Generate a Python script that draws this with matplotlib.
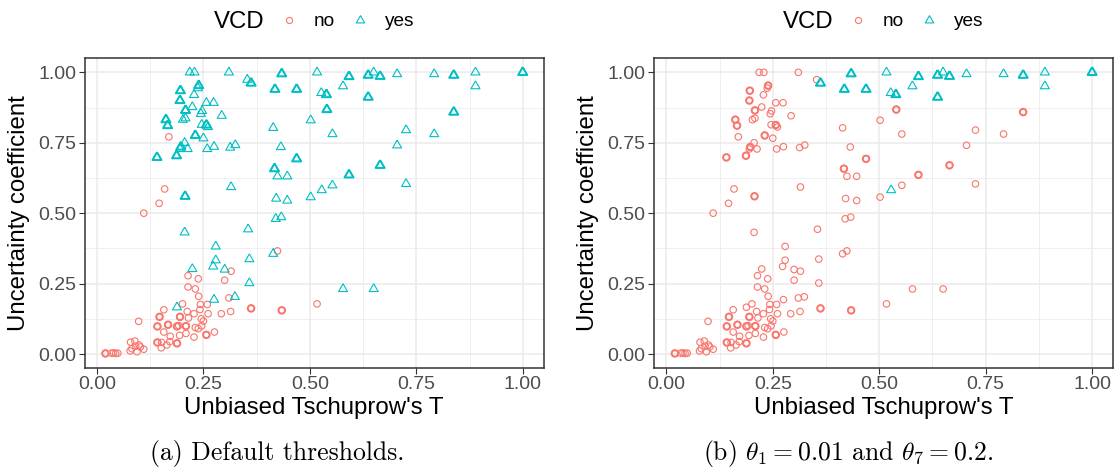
import numpy as np
import matplotlib.pyplot as plt
from matplotlib.lines import Line2D

# VCD flagged under both threshold settings
t_both = [0.434, 0.362, 0.418, 0.469, 0.517, 0.592, 0.637, 0.650, 0.665, 0.705,
          0.792, 0.838, 0.889, 1.000, 0.527, 0.539, 0.578, 0.637, 0.889, 0.528]
u_both = [0.995, 0.962, 0.940, 0.940, 1.000, 0.985, 0.990, 1.000, 0.986, 0.994,
          0.994, 0.990, 1.000, 1.000, 0.927, 0.921, 0.951, 0.912, 0.951, 0.582]
k_both = [2, 2, 2, 2, 1, 2, 2, 1, 2, 1, 1, 2, 1, 3, 1, 2, 1, 2, 1, 1]

# VCD flagged only with the default thresholds
t_dflt = [0.218, 0.229, 0.310, 0.353, 0.239, 0.237, 0.196, 0.195, 0.228, 0.257,
          0.274, 0.208, 0.224, 0.247, 0.244, 0.293, 0.162, 0.202, 0.208, 0.166,
          0.246, 0.257, 0.261, 0.414, 0.502, 0.231, 0.250, 0.206, 0.197, 0.195,
          0.213, 0.187, 0.141, 0.259, 0.275, 0.313, 0.325, 0.432, 0.469, 0.417,
          0.424, 0.447, 0.315, 0.207, 0.421, 0.447, 0.540, 0.838, 0.553, 0.726,
          0.792, 0.705, 0.665, 0.592, 0.726, 0.553, 0.502, 0.420, 0.433, 0.206,
          0.355, 0.279, 0.414, 0.279, 0.273, 0.300, 0.224, 0.358, 0.358, 0.324,
          0.275, 0.188, 0.578, 0.650]
u_dflt = [1.000, 1.000, 1.000, 0.974, 0.953, 0.944, 0.935, 0.900, 0.920, 0.892,
          0.892, 0.865, 0.877, 0.863, 0.853, 0.846, 0.832, 0.832, 0.837, 0.811,
          0.814, 0.813, 0.806, 0.803, 0.830, 0.776, 0.766, 0.750, 0.735, 0.728,
          0.728, 0.704, 0.698, 0.728, 0.736, 0.733, 0.742, 0.735, 0.693, 0.658,
          0.631, 0.631, 0.593, 0.560, 0.552, 0.545, 0.868, 0.859, 0.781, 0.795,
          0.781, 0.741, 0.670, 0.636, 0.604, 0.599, 0.557, 0.480, 0.486, 0.432,
          0.443, 0.382, 0.356, 0.333, 0.311, 0.300, 0.302, 0.337, 0.252, 0.203,
          0.193, 0.166, 0.231, 0.231]
k_dflt = [1, 1, 1, 1, 2, 1, 2, 2, 1, 1,
          1, 2, 1, 1, 1, 1, 2, 1, 1, 2,
          1, 2, 1, 1, 1, 2, 1, 1, 2, 1,
          1, 2, 2, 1, 1, 1, 1, 1, 2, 2,
          1, 1, 1, 2, 1, 1, 2, 2, 1, 1,
          1, 1, 2, 2, 1, 1, 1, 1, 1, 1,
          1, 1, 1, 1, 1, 1, 1, 1, 1, 1,
          1, 1, 1, 1]

# never flagged
t_none = [0.169, 0.159, 0.146, 0.110, 0.214, 0.238, 0.214, 0.231, 0.239, 0.300,
          0.315, 0.424, 0.310, 0.201, 0.157, 0.243, 0.259, 0.242, 0.261, 0.212,
          0.228, 0.250, 0.246, 0.238, 0.231, 0.292, 0.314, 0.362, 0.434, 0.098,
          0.147, 0.195, 0.215, 0.245, 0.142, 0.167, 0.188, 0.209, 0.192, 0.157,
          0.172, 0.194, 0.209, 0.228, 0.257, 0.276, 0.142, 0.152, 0.151, 0.164,
          0.171, 0.188, 0.079, 0.089, 0.078, 0.091, 0.099, 0.102, 0.094, 0.110,
          0.082, 0.020, 0.034, 0.039, 0.049, 0.044, 0.517]
u_none = [0.771, 0.586, 0.535, 0.500, 0.278, 0.267, 0.238, 0.231, 0.205, 0.262,
          0.294, 0.366, 0.199, 0.178, 0.157, 0.176, 0.176, 0.158, 0.143, 0.151,
          0.143, 0.117, 0.100, 0.090, 0.094, 0.143, 0.151, 0.162, 0.155, 0.116,
          0.132, 0.132, 0.128, 0.125, 0.098, 0.104, 0.098, 0.099, 0.101, 0.078,
          0.063, 0.066, 0.073, 0.060, 0.068, 0.078, 0.041, 0.041, 0.022, 0.032,
          0.044, 0.038, 0.042, 0.046, 0.011, 0.028, 0.032, 0.025, 0.008, 0.017,
          0.019, 0.002, 0.003, 0.004, 0.003, 0.002, 0.178]
k_none = [1, 1, 1, 1, 1, 1, 1, 1, 1, 1,
          1, 1, 1, 1, 1, 1, 1, 1, 1, 1,
          1, 1, 1, 1, 1, 1, 1, 2, 2, 1,
          2, 2, 1, 1, 2, 2, 2, 2, 1, 1,
          1, 1, 1, 1, 2, 1, 2, 1, 1, 1,
          1, 2, 1, 1, 1, 1, 1, 1, 1, 1,
          1, 2, 1, 1, 1, 1, 1]

ticks = [0.0, 0.25, 0.5, 0.75, 1.0]
tick_labels = ["0.00", "0.25", "0.50", "0.75", "1.00"]
captions = ["(a) Default thresholds.",
            r"(b) $\theta_1 = 0.01$ and $\theta_7 = 0.2$."]

RED = "#F8766D"
CYAN = "#00BFC4"
# open triangle like ggplot shape 2 (closed outline)
TRI = [(0, 0.577), (-0.5, -0.289), (0.5, -0.289), (0, 0.577)]

plt.rcParams['font.family'] = ['Liberation Sans', 'DejaVu Sans']
plt.rcParams['mathtext.fontset'] = 'cm'


def pts(t, u, k):
    return np.array(t), np.array(u), np.array(k)


groups = {'both': pts(t_both, u_both, k_both),
          'dflt': pts(t_dflt, u_dflt, k_dflt),
          'none': pts(t_none, u_none, k_none)}

all_t = np.concatenate([g[0] for g in groups.values()])
all_u = np.concatenate([g[1] for g in groups.values()])
xpad = 0.05 * (all_t.max() - all_t.min())
ypad = 0.05 * (all_u.max() - all_u.min())

fig = plt.figure(figsize=(11.14, 4.70), dpi=100)
W, H = 1114, 470
ax_a = fig.add_axes([84.6 / W, 1 - 367.5 / H, 459 / W, 309.2 / H])
ax_b = fig.add_axes([654 / W, 1 - 367.5 / H, 459 / W, 309.2 / H])

# which groups count as "yes" in each panel
setups = [(ax_a, ['both', 'dflt'], ['none']),
          (ax_b, ['both'], ['dflt', 'none'])]


def draw(ax, keys, marker, color, size):
    t = np.concatenate([groups[k][0] for k in keys])
    u = np.concatenate([groups[k][1] for k in keys])
    n = np.concatenate([groups[k][2] for k in keys])
    ax.scatter(t, u, marker=marker, s=size, facecolors='none',
               edgecolors=color, linewidths=0.8, zorder=3)
    rep = n > 1
    ax.scatter(t[rep], u[rep], marker=marker, s=size, facecolors='none',
               edgecolors=color, linewidths=1.4, zorder=3)


for i, (ax, yes_keys, no_keys) in enumerate(setups):
    draw(ax, no_keys, 'o', RED, 22)
    draw(ax, yes_keys, TRI, CYAN, 56)

    ax.set_xlim(all_t.min() - xpad, all_t.max() + xpad)
    ax.set_ylim(all_u.min() - ypad, all_u.max() + ypad)
    ax.set_xticks(ticks)
    ax.set_xticklabels(tick_labels)
    ax.set_yticks(ticks)
    ax.set_yticklabels(tick_labels)
    ax.set_xticks([0.125, 0.375, 0.625, 0.875], minor=True)
    ax.set_yticks([0.125, 0.375, 0.625, 0.875], minor=True)
    ax.grid(True, which='major', color='#EBEBEB', lw=1.1, zorder=0)
    ax.grid(True, which='minor', color='#EBEBEB', lw=0.55, zorder=0)
    ax.tick_params(which='major', length=4, width=0.8, color='#333333',
                   labelsize=14, labelcolor='#4D4D4D', pad=2)
    ax.tick_params(which='minor', length=0)
    for sp in ax.spines.values():
        sp.set_color('#333333')
        sp.set_linewidth(1.1)
    ax.set_axisbelow(True)
    ax.set_xlabel("Unbiased Tschuprow's T", fontsize=17.3, labelpad=3)
    ax.set_ylabel("Uncertainty coefficient", fontsize=17.3, labelpad=6)

    handles = [Line2D([], [], ls='none', marker='o', ms=4.4, mfc='none',
                      mec=RED, mew=0.8),
               Line2D([], [], ls='none', marker=TRI, ms=7.0, mfc='none',
                      mec=CYAN, mew=0.8)]
    ax.legend(handles, ['no', 'yes'], ncol=2, loc='center',
              bbox_to_anchor=(0.571, 1.118), frameon=False, fontsize=13.7,
              handlelength=1.0, handletextpad=0.8, columnspacing=0.84,
              borderaxespad=0)
    ax.text(0.392, 1.118, "VCD", transform=ax.transAxes, ha='right',
            va='center', fontsize=17.3)

fig.text(277 / W, 0.022, captions[0], family='cmr10', fontsize=18.5,
         ha='center', va='baseline')
fig.text(848 / W, 0.022, captions[1], family='cmr10', fontsize=18.5,
         ha='center', va='baseline')

fig.savefig('out.png', dpi=100)
